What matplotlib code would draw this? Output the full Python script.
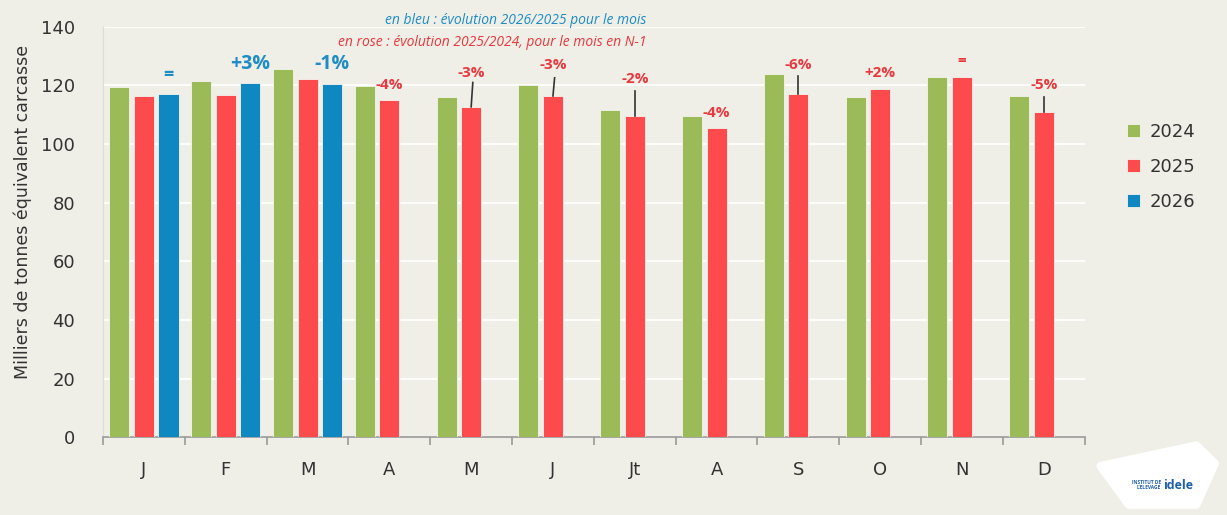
import matplotlib
matplotlib.use("Agg")
import matplotlib.pyplot as plt
from matplotlib.patches import Polygon
import numpy as np

months = ["J", "F", "M", "A", "M", "J", "Jt", "A", "S", "O", "N", "D"]
v2024 = [119.5, 121.5, 125.6, 119.8, 116.1, 120.2, 111.6, 109.6, 123.9, 116.1, 122.9, 116.4]
v2025 = [116.4, 116.8, 122.2, 115.1, 112.7, 116.4, 109.6, 105.5, 117.1, 118.8, 122.9, 111.0]
v2026 = [117.1, 120.9, 120.5]
labels_2026 = ["=", "+3%", "-1%"]
labels_2025 = [None, None, None, "-4%", "-3%", "-3%", "-2%", "-4%", "-6%", "+2%", "=", "-5%"]
years = ["2024", "2025", "2026"]

# style
BG = "#efefe8"
GREEN = "#9bbb59"
RED = "#fc4a4d"
BLUE = "#0f88c2"
BLUE_TXT = "#1f8cc4"
RED_TXT = "#e8383d"
FONT = "Open Sans"
WIDE = "DejaVu Sans"
TXT = "#333333"
# label placement (data offsets above bar top) and leader lines (start above bar)
red_lbl_off = {3: 5.0, 4: 11.5, 5: 10.5, 6: 12.5, 7: 5.0, 8: 10.0, 9: 5.5, 10: 5.5, 11: 9.2}
red_line_start = {4: 8.3, 5: 6.2, 6: 8.5, 8: 6.1, 11: 5.2}
blue_lbl_off = [6.5, 6.4, 6.8]

plt.rcParams['font.family'] = [FONT, 'DejaVu Sans']

fig = plt.figure(figsize=(12.27, 5.15), dpi=100, facecolor=BG)
ax = fig.add_axes([0.084, 0.151, 0.800, 0.797], facecolor=BG)

x = np.arange(len(months))
slot = 0.30
bw = 0.245
ax.bar(x - slot, v2024, bw, color=GREEN, edgecolor="#f4f4ee", linewidth=0.6, label=years[0], zorder=3)
ax.bar(x, v2025, bw, color=RED, edgecolor="#f4f4ee", linewidth=0.6, label=years[1], zorder=3)
x26 = x[:len(v2026)] + slot
ax.bar(x26, v2026, bw, color=BLUE, edgecolor="#f4f4ee", linewidth=0.6, label=years[2], zorder=3)

# blue labels
for i, (xx, v, t) in enumerate(zip(x26, v2026, labels_2026)):
    ax.text(xx, v + blue_lbl_off[i], t, ha="center", va="center", color=BLUE_TXT,
            fontsize=14 if t != "=" else 13, fontweight="bold", zorder=5)

# red labels
for i, t in enumerate(labels_2025):
    if t is None:
        continue
    v = v2025[i]
    ax.text(x[i], v + red_lbl_off[i], t, ha="center", va="center", color=RED_TXT,
            fontsize=11, fontweight="bold", zorder=5)
    if i in red_line_start:
        ax.plot([x[i] + 0.02 if i in (4, 5) else x[i], x[i]], [v + red_line_start[i], v],
                color="#333333", lw=1.2, zorder=4)

ax.set_ylim(0, 140)
ax.set_xlim(-0.5, len(months) - 0.5)
ax.set_yticks(np.arange(0, 141, 20))
ax.yaxis.grid(True, color="white", linewidth=1.3, zorder=0)
ax.set_axisbelow(True)
ax.tick_params(axis="y", length=0, pad=20, labelsize=13, labelcolor=TXT)
for lb in ax.get_yticklabels():
    lb.set_family(WIDE)
ax.set_ylabel("Milliers de tonnes équivalent carcasse", fontsize=12.5, color=TXT, family=WIDE)
ax.yaxis.set_label_coords(-0.072, 0.55)

ax.set_xticks(x)
ax.set_xticklabels(months, family=WIDE)
ax.set_xticks(np.arange(-0.5, len(months), 1), minor=True)
ax.tick_params(axis="x", which="major", length=0, pad=17, labelsize=13, labelcolor=TXT)
ax.tick_params(axis="x", which="minor", length=6, color="#999999", width=1.2)

for s in ["top", "right"]:
    ax.spines[s].set_visible(False)
ax.spines["left"].set_color("#dcdcd6")
ax.spines["bottom"].set_color("#999999")
ax.spines["bottom"].set_linewidth(1.2)

# subtitles
fig.text(0.527, 0.960, "en bleu : évolution 2026/2025 pour le mois", ha="right", va="center",
         color=BLUE_TXT, fontsize=10, style="italic")
fig.text(0.527, 0.917, "en rose : évolution 2025/2024, pour le mois en N-1", ha="right", va="center",
         color=RED_TXT, fontsize=10, style="italic")

# legend
leg = fig.legend(loc="upper left", bbox_to_anchor=(0.905, 0.793), frameon=False,
                 handlelength=0.75, handleheight=0.75, labelspacing=0.95, handletextpad=0.5,
                 prop={"family": WIDE, "size": 13})
for t in leg.get_texts():
    t.set_color(TXT)

# logo approximation
logo = Polygon([(0.897, 0.095), (0.975, 0.135), (0.99, 0.10), (0.975, 0.02), (0.92, 0.02)],
               closed=True, transform=fig.transFigure, facecolor="white", edgecolor="white",
               linewidth=6, joinstyle="round")
fig.patches.append(logo)
fig.text(0.948, 0.058, "idele", ha="left", va="center", color="#1f5fa8", fontsize=9, fontweight="bold")
fig.text(0.946, 0.058, "INSTITUT DE\nL'ELEVAGE", ha="right", va="center", color="#1f5fa8",
         fontsize=3.5, fontweight="bold", linespacing=1.0)

fig.savefig("out.png", dpi=100, facecolor=BG)
